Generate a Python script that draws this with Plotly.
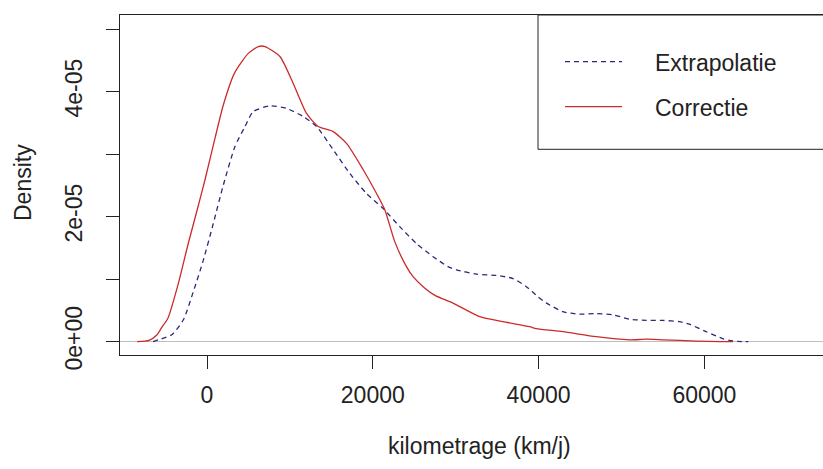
import plotly.graph_objects as go

# ---- data ----
series_names = ["Extrapolatie", "Correctie"]

extrap_x = [-6500, -5860, -4250, -2850, -1650, -450, 760, 1960, 3370, 4580, 5580,
            7590, 9600, 11610, 13220, 15220, 17230, 19240, 21240, 23250, 25260,
            27270, 29080, 30080, 32490, 34900, 36910, 38520, 39920, 40920, 42930,
            44940, 46950, 48960, 50960, 52980, 54980, 56990, 58190, 60200, 62210,
            63010, 64000, 65300]
extrap_y = [0.0, 0.03, 0.11, 0.35, 0.80, 1.30, 1.89, 2.50, 3.12, 3.44, 3.68,
            3.77, 3.73, 3.60, 3.44, 3.07, 2.69, 2.37, 2.13, 1.84, 1.57,
            1.36, 1.20, 1.15, 1.08, 1.06, 1.01, 0.88, 0.72, 0.62, 0.48,
            0.44, 0.45, 0.43, 0.36, 0.34, 0.34, 0.32, 0.28, 0.16, 0.05,
            0.02, 0.005, 0.0]

correc_x = [-8430, -7000, -6060, -5500, -4700, -3460, -2300, -1100, -240, 960,
            1960, 3300, 4980, 6200, 7000, 8800, 10400, 12010, 13420, 15220,
            16830, 18840, 20450, 21450, 22650, 24060, 24860, 26070, 27500,
            29280, 30080, 32890, 35700, 38910, 39720, 42930, 46950, 50960,
            52980, 54980, 59000, 62000, 63450]
correc_y = [0.0, 0.02, 0.107, 0.22, 0.38, 0.93, 1.55, 2.15, 2.59, 3.25,
            3.78, 4.29, 4.61, 4.72, 4.72, 4.56, 4.13, 3.65, 3.44, 3.36,
            3.17, 2.75, 2.37, 2.11, 1.60, 1.20, 1.04, 0.88, 0.74,
            0.64, 0.59, 0.40, 0.32, 0.24, 0.21, 0.16, 0.08, 0.03,
            0.04, 0.03, 0.01, 0.0, 0.0]

x_ticks = [0, 20000, 40000, 60000]
x_tick_labels = ["0", "20000", "40000", "60000"]
y_ticks = [0, 1e-5, 2e-5, 3e-5, 4e-5, 5e-5]
y_tick_labels = ["0e+00", "", "2e-05", "", "4e-05", ""]

SCALE = 1e-5
BLUE = "#2a2a7a"
RED = "#cc2a2a"
FONT = "Liberation Sans, Arial, sans-serif"
TXT = "#222222"

fig = go.Figure()
fig.add_trace(go.Scatter(
    x=extrap_x, y=[v * SCALE for v in extrap_y], mode="lines",
    name=series_names[0], line=dict(color=BLUE, width=1.3, dash="5px,4px",
                                    shape="spline", smoothing=0.6),
    showlegend=False))
fig.add_trace(go.Scatter(
    x=correc_x, y=[v * SCALE for v in correc_y], mode="lines",
    name=series_names[1], line=dict(color=RED, width=1.3,
                                    shape="spline", smoothing=0.6),
    showlegend=False))

W, H = 823, 469
L, R, T, B = 120, 0, 15, 469 - 355
pw, ph = W - L - R, H - T - B

def px(sx):
    return (sx - L) / pw

def py(sy):
    return (H - B - sy) / ph

fig.update_layout(
    width=W, height=H,
    margin=dict(l=L, r=R, t=T, b=B, pad=0),
    paper_bgcolor="white", plot_bgcolor="white",
    font=dict(family=FONT, size=23, color=TXT),
    xaxis=dict(range=[-10495, 74308], tickvals=x_ticks, ticktext=x_tick_labels,
               showgrid=False, zeroline=False, showline=True, mirror=True,
               linecolor="#222", linewidth=1, ticks="outside", ticklen=13,
               tickcolor="#222", tickwidth=1, tickfont=dict(size=23),
               ticklabelstandoff=6),
    yaxis=dict(range=[-2.127e-6, 5.224e-5], tickvals=y_ticks, ticktext=y_tick_labels,
               showgrid=False, zeroline=True, zerolinecolor="#bebebe", zerolinewidth=1,
               showline=True, linecolor="#222", linewidth=1, ticks="outside",
               ticklen=13, tickcolor="#222", tickwidth=1, tickangle=-90,
               tickfont=dict(size=23), ticklabelstandoff=15),
)

# legend box (R-style)
fig.add_shape(type="rect", xref="paper", yref="paper",
              x0=px(538), x1=px(840), y0=py(149.3), y1=1.0,
              line=dict(color="#222", width=1), fillcolor="rgba(0,0,0,0)")
fig.add_shape(type="line", xref="paper", yref="paper",
              x0=px(565), x1=px(622), y0=py(61.7), y1=py(61.7),
              line=dict(color=BLUE, width=1.3, dash="5px,4px"))
fig.add_shape(type="line", xref="paper", yref="paper",
              x0=px(565), x1=px(622), y0=py(106.7), y1=py(106.7),
              line=dict(color=RED, width=1.3))
fig.add_annotation(xref="paper", yref="paper", x=px(653), y=py(62.7),
                   text=series_names[0], showarrow=False, xanchor="left",
                   yanchor="middle", font=dict(size=23, color=TXT))
fig.add_annotation(xref="paper", yref="paper", x=px(653), y=py(108),
                   text=series_names[1], showarrow=False, xanchor="left",
                   yanchor="middle", font=dict(size=23, color=TXT))

# axis titles
fig.add_annotation(xref="paper", yref="paper", x=px(479), y=py(446),
                   text="kilometrage (km/j)", showarrow=False,
                   xanchor="center", yanchor="middle", font=dict(size=23, color=TXT))
fig.add_annotation(xref="paper", yref="paper", x=px(23), y=py(183),
                   text="Density", showarrow=False, textangle=-90,
                   xanchor="center", yanchor="middle", font=dict(size=23, color=TXT))

# remove the default 8px page margin so the 823x469 figure fills the window exactly
fig.write_html("out.html",
               config={"displayModeBar": False},
               post_script="document.body.style.margin='0px';"
                           "document.body.style.overflow='hidden';")
